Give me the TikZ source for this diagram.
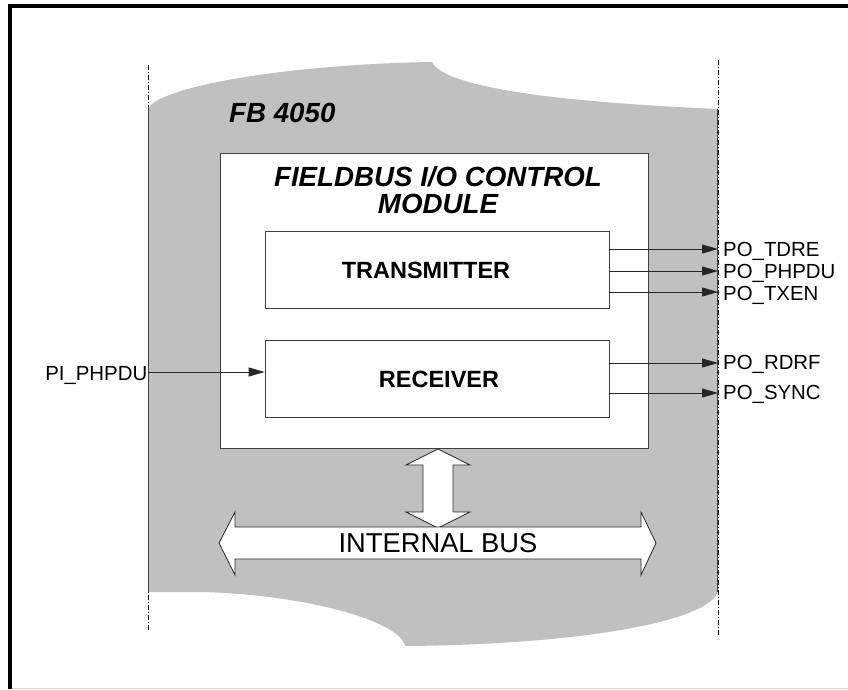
\documentclass[tikz,border=0pt]{standalone}
\usepackage{fontspec}
\setmainfont{Liberation Sans}
\usetikzlibrary{arrows.meta}
\definecolor{bggray}{HTML}{C0C0C0}
\definecolor{edgecol}{HTML}{404040}
\definecolor{framegray}{HTML}{D8D8D8}
\begin{document}
\begin{tikzpicture}[x=1pt,y=-1pt,
  boxstyle/.style={draw=edgecol,fill=white,line width=0.8pt,inner sep=0pt},
  blockstyle/.style={boxstyle,minimum width=344pt,minimum height=77pt},
  blocktext/.style={inner sep=0pt,font=\fontsize{23.5}{26}\selectfont\bfseries},
  lbl/.style={inner sep=0pt,font=\fontsize{20.4}{22}\selectfont},
  ttl/.style={inner sep=0pt,font=\fontsize{27.7}{27}\selectfont\bfseries\itshape},
  sig/.style={draw=black!85,line width=0.9pt,-{Triangle[length=16pt,width=9pt]}},
  dashdot/.style={draw=black,line width=0.8pt,dash pattern=on 5pt off 2pt on 1pt off 2pt},
  fatarrow/.style={draw=black!85,fill=white,line width=0.8pt,line join=miter}]
\useasboundingbox (0,0) rectangle (848,689);
% frame
\draw[framegray,line width=1pt] (9,688) -- (848,688);
\draw[black,line width=4pt] (9.5,689) -- (9.5,6.2) -- (848,6.2);
% gray field
\fill[bggray] (148,592) -- (148,108)
  .. controls (165,84) and (300,64) .. (432,62)
  .. controls (445,88) and (560,102) .. (718,109)
  -- (718,592)
  .. controls (705,625) and (560,645) .. (405,646)
  .. controls (400,620) and (300,594) .. (200,592) -- cycle;
% boundary lines
\draw[dashdot] (148,65) -- (148,630);
\draw[dashdot] (718,60) -- (718,636);
\draw[edgecol,line width=1.2pt] (148.5,107) -- (148.5,592);
\draw[edgecol,line width=1.2pt] (717.5,109) -- (717.5,592);
% labels of the field
\node[ttl,anchor=west] (fb) at (229,113) {FB 4050};
% module
\node[boxstyle,minimum width=428pt,minimum height=295pt] (mod) at (434,300.5) {};
\node[ttl,align=center] (modt) at (438,190) {FIELDBUS I/O CONTROL\\MODULE};
\node[blockstyle] (tx) at (437,270) {};
\node[blocktext] (txt) at (426,270) {TRANSMITTER};
\node[blockstyle] (rx) at (437,379) {};
\node[blocktext] (rxt) at (439,379) {RECEIVER};
% outputs
\coordinate (o1) at (718,249);
\coordinate (o2) at (718,271);
\coordinate (o3) at (718,292);
\coordinate (o4) at (718,363);
\coordinate (o5) at (718,393);
\draw[sig] (tx.east |- o1) -- (o1);
\draw[sig] (tx.east |- o2) -- (o2);
\draw[sig] (tx.east |- o3) -- (o3);
\draw[sig] (rx.east |- o4) -- (o4);
\draw[sig] (rx.east |- o5) -- (o5);
\node[lbl,anchor=base west] (l1) at (723,256.5) {PO\_TDRE};
\node[lbl,anchor=base west] (l2) at (723,278.5) {PO\_PHPDU};
\node[lbl,anchor=base west] (l3) at (723,300) {PO\_TXEN};
\node[lbl,anchor=base west] (l4) at (723,369.5) {PO\_RDRF};
\node[lbl,anchor=base west] (l5) at (723,399.5) {PO\_SYNC};
% input
\coordinate (i1) at (148,372);
\node[lbl,anchor=base east] (li) at (147.5,380) {PI\_PHPDU};
\draw[sig] (i1) -- (rx.west |- i1);
% vertical bus connection
\draw[fatarrow] (438,449) -- (470,465) -- (453,465) -- (453,512) -- (470,512) -- (438,528)
  -- (406,512) -- (423,512) -- (423,465) -- (406,465) -- cycle;
% internal bus
\draw[fatarrow] (219,543) -- (235,512) -- (235,527) -- (641,527) -- (641,512) -- (656,543)
  -- (641,575) -- (641,559) -- (235,559) -- (235,575) -- cycle;
\node[inner sep=0pt,font=\fontsize{27.3}{28}\selectfont] (bus) at (438,543) {INTERNAL BUS};
\end{tikzpicture}
\end{document}
